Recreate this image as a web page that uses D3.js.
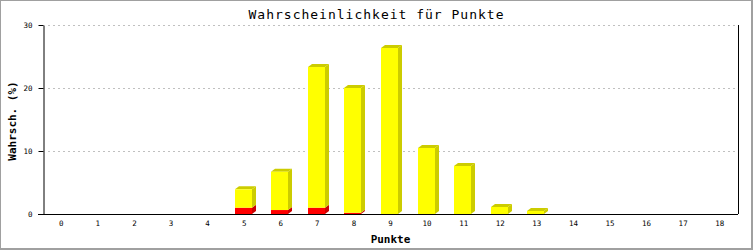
<!DOCTYPE html>
<html>
<head>
<meta charset="utf-8">
<script src="https://cdn.jsdelivr.net/npm/d3@7"></script>
<style>
  body { margin: 0; background: #fff; }
  text { font-family: "DejaVu Sans Mono", monospace; fill: #000; }
</style>
</head>
<body>
<div id="chart"></div>
<script>
// points 0..18
const categories = d3.range(0, 19).map(String);
// red part (bottom) and yellow part (top), in %
const redValues =    [0, 0, 0, 0, 0, 1.0, 0.63, 1.0, 0.2, 0, 0, 0, 0, 0, 0, 0, 0, 0, 0];
const yellowValues = [0, 0, 0, 0, 0, 2.92, 6.08, 22.33, 19.8, 26.35, 10.48, 7.62, 1.11, 0.48, 0, 0, 0, 0, 0];
const yTicks = [0, 10, 20, 30];

const W = 753, H = 250;
const plotLeft = 43, plotRight = 738, plotTop = 25, plotBottom = 214;
const depthX = 4, depthY = 3;

const svg = d3.select("#chart").append("svg")
    .attr("width", W)
    .attr("height", H);

// frame
svg.append("rect").attr("width", W).attr("height", H).attr("fill", "#a0a0a0");
svg.append("rect").attr("x", 1).attr("y", 1).attr("width", W - 3).attr("height", H - 3).attr("fill", "#fff");

var x = d3.scaleBand()
    .domain(categories)
    .range([plotLeft, plotRight]);

var y = d3.scaleLinear()
    .domain([0, 30])
    .range([plotBottom, plotTop]);

// grid
svg.append("g")
    .selectAll("line")
    .data(yTicks.filter(d => d > 0))
    .enter().append("line")
    .attr("x1", plotLeft + 5)
    .attr("x2", plotRight)
    .attr("y1", d => Math.round(y(d)) + 0.5)
    .attr("y2", d => Math.round(y(d)) + 0.5)
    .attr("stroke", "#c0c0c0")
    .attr("stroke-dasharray", "2,3");

// bars as 3D boxes
const barW = 17;
function drawSegment(g, i, y0, v, front, side, withTop) {
  if (v <= 0) return;
  var x0 = Math.round(x(categories[i]) + (x.bandwidth() - barW) / 2) - 1;
  var x1 = x0 + barW;
  var yb = y(y0), yt = y(y0 + v);
  g.append("polygon")
      .attr("points", [[x1, yt], [x1 + depthX, yt - depthY], [x1 + depthX, yb - depthY], [x1, yb]].join(" "))
      .attr("fill", side);
  if (withTop) {
    g.append("polygon")
        .attr("points", [[x0, yt], [x0 + depthX, yt - depthY], [x1 + depthX, yt - depthY], [x1, yt]].join(" "))
        .attr("fill", side);
  }
  g.append("rect")
      .attr("x", x0)
      .attr("y", yt)
      .attr("width", barW)
      .attr("height", yb - yt)
      .attr("fill", front);
}

var bars = svg.append("g");
categories.forEach((c, i) => {
  drawSegment(bars, i, 0, redValues[i], "#ff0000", "#cc0000", yellowValues[i] <= 0);
  drawSegment(bars, i, redValues[i], yellowValues[i], "#ffff00", "#cccc00", true);
});

// axes
var yAxis = svg.append("g")
    .attr("transform", "translate(" + (plotLeft + 0.5) + ",0)")
    .call(d3.axisLeft(y).tickValues(yTicks).tickSize(5).tickSizeOuter(0).tickPadding(6));
yAxis.selectAll("text").style("font-size", "7.5px");

var xAxis = svg.append("g")
    .attr("transform", "translate(0," + (plotBottom + 0.5) + ")")
    .call(d3.axisBottom(x).tickSize(0).tickSizeOuter(0).tickPadding(6));
xAxis.select(".domain").attr("d", "M" + (plotLeft - 5) + ",0H" + plotRight);
xAxis.selectAll("text").style("font-size", "7.5px");

svg.append("line")
    .attr("x1", plotRight + 0.5).attr("x2", plotRight + 0.5)
    .attr("y1", plotTop).attr("y2", plotBottom)
    .attr("stroke", "#000");

// title and axis labels
svg.append("text")
    .attr("x", W / 2)
    .attr("y", 18.5)
    .attr("text-anchor", "middle")
    .style("font-size", "13px")
    .style("letter-spacing", "1px")
    .text("Wahrscheinlichkeit für Punkte");

svg.append("text")
    .attr("text-anchor", "middle")
    .attr("transform", "translate(16,121) rotate(-90)")
    .style("font-size", "11px")
    .style("font-weight", "bold")
    .text("Wahrsch. (%)");

svg.append("text")
    .attr("x", (plotLeft + plotRight) / 2)
    .attr("y", 243)
    .attr("text-anchor", "middle")
    .style("font-size", "11px")
    .style("font-weight", "bold")
    .text("Punkte");
</script>
</body>
</html>
